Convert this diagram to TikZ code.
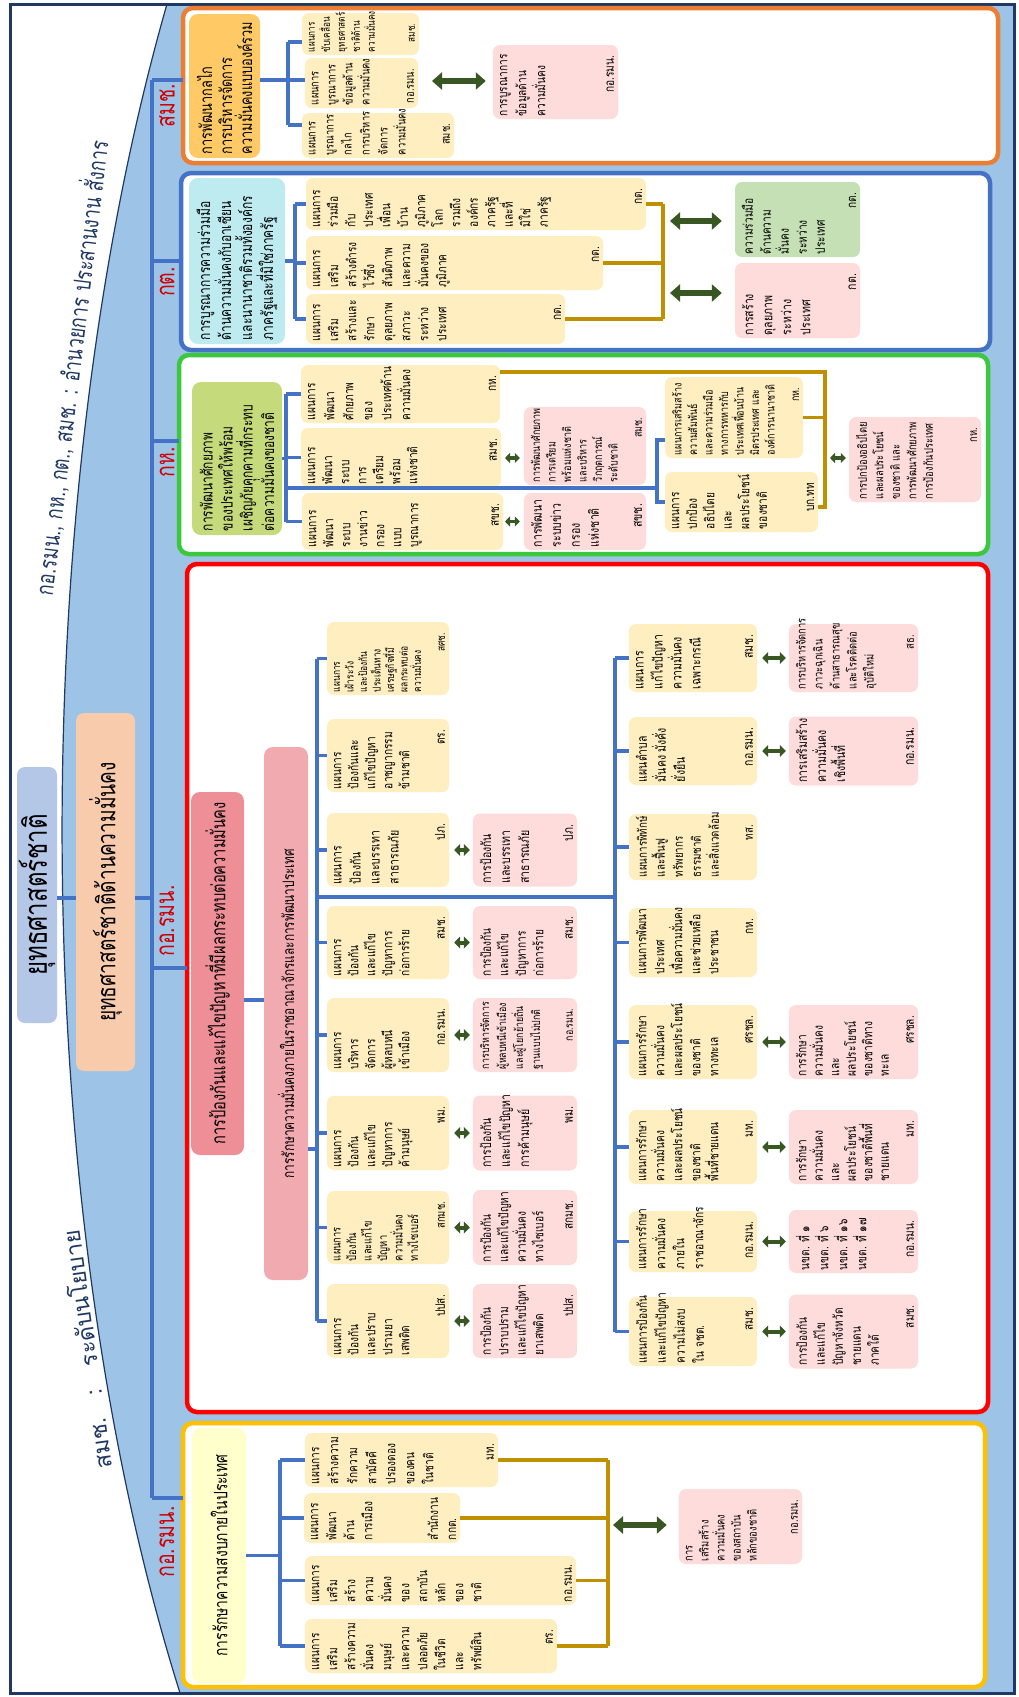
\documentclass[tikz,border=0pt]{standalone}
\usepackage{fontspec}
\setmainfont{Loma}[Script=Thai]
\newfontfamily\thn{Loma}[Script=Thai,FakeStretch=0.75]
\newfontfamily\thb{Loma}[Script=Thai,FakeStretch=0.78]
\usetikzlibrary{arrows.meta}

\definecolor{bgblue}{HTML}{9DC3E6}
\definecolor{navy}{HTML}{203864}
\definecolor{busblue}{HTML}{4472C4}
\definecolor{gold}{HTML}{BF9000}
\definecolor{arrowgreen}{HTML}{385723}
\definecolor{planyellow}{HTML}{FFEEC0}
\definecolor{taskpink}{HTML}{FFDCDC}
\definecolor{coopgreen}{HTML}{C5E0B4}
\definecolor{frameorange}{HTML}{ED7D31}
\definecolor{framegreen}{HTML}{3CC83C}
\definecolor{frameyellow}{HTML}{FFC000}
\definecolor{labelred}{HTML}{D00000}
\definecolor{natblue}{HTML}{B4C7E7}
\definecolor{secpeach}{HTML}{F8CBAD}
\definecolor{sumorange}{HTML}{FFC966}
\definecolor{sumcyan}{HTML}{BDEBF0}
\definecolor{sumgreen}{HTML}{C4DA7B}
\definecolor{sumred}{HTML}{EE8E96}
\definecolor{sumpink}{HTML}{F2AAB1}
\definecolor{sumyellow}{HTML}{FFFFCC}

\newcommand\fsz[2]{\fontsize{#1}{#2}\selectfont}
\newcommand\plantext[4]{\parbox[c][\dimexpr#2pt-8pt\relax][s]{\dimexpr#1pt-6pt\relax}{\raggedright\vspace*{3pt}#3\par\vfill{\raggedleft#4\kern8pt\par}}}

\tikzset{
  secframe/.style={draw=#1, line width=4.5pt, rounded corners=10pt, fill=white, inner sep=0pt, outer sep=0pt},
  natbox/.style={rotate=90, rounded corners=8pt, inner sep=0pt, align=center},
  sumbox/.style={rotate=90, fill=#1, rounded corners=9pt, inner sep=4pt, align=left, font=\thn\fsz{17}{20}},
  planbox/.style={rotate=90, fill=planyellow, rounded corners=7pt, inner xsep=3pt, inner ysep=4pt, font=\thb\fsz{13}{18}},
  taskbox/.style={planbox, fill=taskpink},
  coopbox/.style={planbox, fill=coopgreen},
  agency/.style={rotate=90, text=labelred, font=\thn\fsz{26}{26}, inner sep=0pt},
  remark/.style={text=navy, font=\thn\fsz{24}{24}, inner sep=0pt},
  bus/.style={draw=busblue, line width=3.5pt},
  goldbus/.style={draw=gold, line width=3.5pt},
  dblarrow/.style={draw=arrowgreen, line width=5.5pt, {Triangle[length=10pt,width=17pt]}-{Triangle[length=10pt,width=17pt]}},
  shortarrow/.style={draw=arrowgreen, line width=4pt, {Triangle[length=6pt,width=12pt]}-{Triangle[length=6pt,width=12pt]}},
  minarrow/.style={draw=arrowgreen, line width=3.5pt, {Triangle[length=5pt,width=10pt]}-{Triangle[length=5pt,width=10pt]}}
}

\begin{document}
\begin{tikzpicture}[x=1pt,y=-1pt]
\useasboundingbox (0,0) rectangle (1018,1697);
\fill[white] (0,0) rectangle (1018,1697);
\fill[bgblue] (167,4) .. controls (25,500) and (25,1200) .. (180,1693) -- (1014,1693) -- (1014,4) -- cycle;
\draw[navy, line width=1.2pt] (167,4) .. controls (25,500) and (25,1200) .. (180,1693);
\draw[navy, line width=3pt] (10,4) rectangle (1014,1693);

\node[remark, rotate=83] (rk1) at (70,368) {กอ.รมน., กห., กต., สมช. : อำนวยการ ประสานงาน สั่งการ};
\node[remark, rotate=98, font=\fsz{23}{23}] (rk2) at (86,1350) {สมช.\quad:\quad ระดับนโยบาย};

\node[natbox, fill=natblue, minimum width=256pt, minimum height=40pt, font=\thn\fsz{32}{32}] (mtitle) at (37,895) {ยุทธศาสตร์ชาติ};
\node[natbox, fill=secpeach, minimum width=358pt, minimum height=59pt, font=\thn\fsz{25.5}{26}] (stitle) at (105.5,892) {ยุทธศาสตร์ชาติด้านความมั่นคง};

\node[secframe=frameorange, minimum width=815pt, minimum height=155pt] (oframe) at (590.5,85.5) {};
\node[secframe=busblue, minimum width=809pt, minimum height=177pt] (bframe) at (585.5,261.5) {};
\node[secframe=framegreen, minimum width=809pt, minimum height=199pt] (gframe) at (583.5,454.5) {};
\node[secframe=red, minimum width=801pt, minimum height=848pt] (rframe) at (587.5,988) {};
\node[secframe=frameyellow, minimum width=802pt, minimum height=264pt] (yframe) at (584,1555) {};

\coordinate (t1) at (152,80);
\coordinate (t2) at (152,261);
\coordinate (t3) at (152,441);
\coordinate (t4) at (152,968);
\coordinate (t5) at (152,1498);
\coordinate (tm) at (152,898);
\coordinate (mj) at (66,898);
\draw[bus] (t1) -- (t5);
\foreach \t/\f in {t1/oframe,t2/bframe,t3/gframe,t4/rframe,t5/yframe}
  \draw[bus] (\t) -- (\t -| \f.west);
\draw[bus] (mj -| mtitle.south) -- (mj -| stitle.north);
\draw[bus] (stitle.south |- tm) -- (tm);

\node[agency] (lsmc) at (167,106) {สมช.};
\node[agency] (lkt) at (167,282) {กต.};
\node[agency] (lkh) at (167,462) {กห.};
\node[agency] (lisoca) at (167,921) {กอ.รมน.};
\node[agency] (lisocb) at (167,1542) {กอ.รมน.};

% สมช.
\node[sumbox=sumorange, text width=136pt, minimum height=71pt] (otitle) at (224.5,86) {การพัฒนากลไก\\การบริหารจัดการ\\ความมั่นคงแบบองค์รวม};
\node[planbox, font=\thb\fsz{10.5}{15}] (oA) at (360.5,34) {\plantext{42}{117}{แผนการ\\ขับเคลื่อน\\ยุทธศาสตร์\\ชาติด้าน\\ความมั่นคง}{สมช.}};
\node[planbox, font=\thb\fsz{12}{17}] (oB) at (361.5,83) {\plantext{50}{113}{แผนการ\\บูรณาการ\\ข้อมูลด้าน\\ความมั่นคง}{กอ.รมน.}};
\node[planbox, font=\thb\fsz{12}{18}] (oC) at (378,135.5) {\plantext{45}{152}{แผนการ\\บูรณาการ\\กลไก\\การบริหาร\\จัดการ\\ความมั่นคง}{สมช.}};
\node[taskbox, font=\thb\fsz{13}{19}] (oP) at (555.5,82) {\plantext{74}{125}{การบูรณาการ\\ข้อมูลด้าน\\ความมั่นคง}{กอ.รมน.}};
\coordinate (ob) at (288,80);
\coordinate (oba) at (288,42);
\coordinate (obc) at (288,125);
\coordinate (oa) at (432,81);
\draw[bus] (oba) -- (obc);
\draw[bus] (otitle.south |- ob) -- (ob) -- (ob -| oB.north);
\draw[bus] (oba) -- (oba -| oA.north);
\draw[bus] (obc) -- (obc -| oC.north);
\draw[dblarrow, shorten >=7pt] (oa) -- (oa -| oP.north);

% กต.
\node[sumbox=sumcyan, text width=158pt, minimum height=96pt, font=\thn\fsz{16}{21}] (btitle) at (237,261) {การบูรณาการความร่วมมือ\\ด้านความมั่นคงกับอาเซียน\\และนานาชาติรวมทั้งองค์กร\\ภาครัฐและที่มิใช่ภาครัฐ};
\node[planbox, font=\thb\fsz{13}{17.5}] (bB1) at (476,204) {\plantext{52}{340}{แผนการ\\ร่วมมือ\\กับ\\ประเทศ\\เพื่อน\\บ้าน\\ภูมิภาค\\โลก\\รวมถึง\\องค์กร\\ภาครัฐ\\และที่\\มิใช่\\ภาครัฐ}{กต.}};
\node[planbox] (bB2) at (454.5,263) {\plantext{54}{297}{แผนการ\\เสริม\\สร้างดำรง\\ไว้ซึ่ง\\สันติภาพ\\และความ\\มั่นคงของ\\ภูมิภาค}{กต.}};
\node[planbox] (bB3) at (435.5,319) {\plantext{50}{259}{แผนการ\\เสริม\\สร้างและ\\รักษา\\ดุลยภาพ\\สภาวะ\\ระหว่าง\\ประเทศ}{กต.}};
\node[coopbox] (bC) at (797.5,219.5) {\plantext{75}{125}{ความร่วมมือ\\ด้านความ\\มั่นคง\\ระหว่าง\\ประเทศ}{กต.}};
\node[taskbox, font=\thb\fsz{13.5}{19}] (bP) at (797.5,300.5) {\plantext{75}{125}{การสร้าง\\ดุลยภาพ\\ระหว่าง\\ประเทศ}{กต.}};
\coordinate (bb) at (295,261);
\coordinate (bg) at (663,261);
\coordinate (baa) at (670,221);
\coordinate (bab) at (670,293);
\draw[bus] (btitle.south) -- (bb |- btitle.south);
\draw[bus] (bb |- bB1.north) -- (bb |- bB3.north);
\foreach \b in {bB1,bB2,bB3} {
  \draw[bus] (bb |- \b.north) -- (\b.north);
  \draw[goldbus] (\b.south) -- (bg |- \b.south);
}
\draw[goldbus] (bg |- bB1.south) -- (bg |- bB3.south);
\draw[dblarrow, shorten >=13pt] (baa) -- (baa -| bC.north);
\draw[dblarrow, shorten >=13pt] (bab) -- (bab -| bP.north);

% กห.
\node[sumbox=sumgreen, text width=145pt, minimum height=90pt, font=\thn\fsz{16}{20}] (gtitle) at (237,458.5) {การพัฒนาศักยภาพ\\ของประเทศให้พร้อม\\เผชิญภัยคุกคามที่กระทบ\\ต่อความมั่นคงของชาติ};
\node[planbox, font=\thb\fsz{13}{19}] (G1) at (400.5,394) {\plantext{58}{199}{แผนการ\\พัฒนา\\ศักยภาพ\\ของ\\ประเทศด้าน\\ความมั่นคง}{กห.}};
\node[planbox, font=\thb\fsz{13}{17}] (G2) at (401,457.5) {\plantext{59}{200}{แผนการ\\พัฒนา\\ระบบ\\การ\\เตรียม\\พร้อม\\แห่งชาติ}{สมช.}};
\node[planbox, font=\thb\fsz{13}{17}] (G3) at (402.5,521.5) {\plantext{57}{201}{แผนการ\\พัฒนา\\ระบบ\\งานข่าว\\กรอง\\แบบ\\บูรณาการ}{สขช.}};
\node[taskbox, font=\thb\fsz{11.5}{15.5}] (P1) at (585,446) {\plantext{78}{122}{การพัฒนาศักยภาพ\\การเตรียม\\พร้อมแห่งชาติ\\และบริหาร\\วิกฤตการณ์\\ระดับชาติ}{สมช.}};
\node[taskbox, font=\thb\fsz{13.5}{19}] (P2) at (585,521.5) {\plantext{57}{122}{การพัฒนา\\ระบบข่าว\\กรอง\\แห่งชาติ}{สขช.}};
\node[planbox, font=\thb\fsz{11.5}{15.5}] (G4) at (734,417.5) {\plantext{81}{138}{แผนการเสริมสร้าง\\ความสัมพันธ์\\และความร่วมมือ\\ทางการทหารกับ\\ประเทศเพื่อนบ้าน\\มิตรประเทศ และ\\องค์การนานาชาติ}{กห.}};
\node[planbox, font=\thb\fsz{13}{17.5}] (G5) at (741.5,502) {\plantext{60}{153}{แผนการ\\ปกป้อง\\อธิปไตย\\และ\\ผลประโยชน์\\ของชาติ}{บก.ทท}};
\node[taskbox, font=\thb\fsz{12}{16.5}] (P3) at (915,459.5) {\plantext{85}{132}{การปกป้องอธิปไตย\\และผลประโยชน์\\ของชาติ และ\\การพัฒนาศักยภาพ\\การป้องกันประเทศ}{กห.}};
\coordinate (gb) at (286,458.5);
\coordinate (gl) at (657,488);
\coordinate (gla) at (657,440);
\coordinate (glb) at (657,502);
\coordinate (gga) at (825,372);
\coordinate (ggb) at (825,507);
\coordinate (gaa) at (505,458);
\coordinate (gab) at (505,521.5);
\coordinate (gac) at (830,458);
\draw[bus] (gtitle.south) -- (gb |- gtitle.south);
\draw[bus] (gb |- G1.north) -- (gb |- G3.north);
\foreach \b in {G1,G2,G3}
  \draw[bus] (gb |- \b.north) -- (\b.north);
\draw[bus] (gb |- gl) -- (gl);
\draw[bus] (gla -| G4.north) -- (gla) -- (glb) -- (glb -| G5.north);
\draw[goldbus] (gga -| G1.south) -- (gga) -- (ggb) -- (ggb -| G5.south);
\draw[goldbus] (G4.south) -- (gga |- G4.south);
\draw[minarrow, shorten >=4pt] (gaa) -- (gaa -| P1.north);
\draw[minarrow, shorten >=4pt] (gab) -- (gab -| P2.north);
\draw[minarrow, shorten >=3pt] (gac) -- (gac -| P3.north);

% กอ.รมน.
\node[sumbox=sumred, align=center, minimum width=363pt, minimum height=53pt, font=\thn\fsz{19.5}{22}] (rtitlea) at (217.5,973.5) {การป้องกันและแก้ไขปัญหาที่มีผลกระทบต่อความมั่นคง};
\node[sumbox=sumpink, align=center, minimum width=533pt, minimum height=44pt, font=\thn\fsz{15.8}{20}] (rtitleb) at (286,1013.5) {การรักษาความมั่นคงภายในราชอาณาจักรและการพัฒนาประเทศ};
%
\node[planbox, font=\thb\fsz{10.8}{13.5}] (R1) at (388,658.5) {\plantext{73}{122}{แผนการ\\เฝ้าระวัง\\และป้องกัน\\ประเด็นทาง\\เศรษฐกิจที่มี\\ผลกระทบต่อ\\ความมั่นคง}{สศช.}};
\node[planbox, font=\thb\fsz{13}{17}] (R2) at (388,755.5) {\plantext{73}{122}{แผนการ\\ป้องกันและ\\แก้ไขปัญหา\\อาชญากรรม\\ข้ามชาติ}{ตร.}};
\node[planbox, font=\thb\fsz{13.5}{19}] (R3) at (388,850) {\plantext{74}{122}{แผนการ\\ป้องกัน\\และบรรเทา\\สาธารณภัย}{ปภ.}};
\node[planbox, font=\thb\fsz{13}{17}] (R4) at (388,942.5) {\plantext{73}{122}{แผนการ\\ป้องกัน\\และแก้ไข\\ปัญหาการ\\ก่อการร้าย}{สมช.}};
\node[planbox, font=\thb\fsz{13}{17}] (R5) at (388,1035) {\plantext{74}{122}{แผนการ\\บริหาร\\จัดการ\\ผู้หลบหนี\\เข้าเมือง}{กอ.รมน.}};
\node[planbox, font=\thb\fsz{13}{17}] (R6) at (388,1133) {\plantext{74}{122}{แผนการ\\ป้องกัน\\และแก้ไข\\ปัญหาการ\\ค้ามนุษย์}{พม.}};
\node[planbox, font=\thb\fsz{12}{15.5}] (R7) at (388,1227.5) {\plantext{73}{122}{แผนการ\\ป้องกัน\\และแก้ไข\\ปัญหา\\ความมั่นคง\\ทางไซเบอร์}{สกมช.}};
\node[planbox, font=\thb\fsz{13}{17}] (R8) at (388,1321) {\plantext{74}{122}{แผนการ\\ป้องกัน\\และปราบ\\ปรามยา\\เสพติด}{ปปส.}};
%
\node[taskbox, font=\thb\fsz{13.5}{19}] (RP3) at (525,850) {\plantext{73}{104}{การป้องกัน\\และบรรเทา\\สาธารณภัย}{ปภ.}};
\node[taskbox, font=\thb\fsz{13}{17.5}] (RP4) at (525,942.5) {\plantext{73}{104}{การป้องกัน\\และแก้ไข\\ปัญหาการ\\ก่อการร้าย}{สมช.}};
\node[taskbox, font=\thb\fsz{11.3}{17}] (RP5) at (525,1035) {\plantext{74}{104}{การบริหารจัดการ\\ผู้หลบหนีเข้าเมือง\\และผู้โยกย้ายถิ่น\\ฐานแบบไม่ปกติ}{กอ.รมน.}};
\node[taskbox, font=\thb\fsz{13.5}{19}] (RP6) at (525,1133) {\plantext{75}{104}{การป้องกัน\\และแก้ไขปัญหา\\การค้ามนุษย์}{พม.}};
\node[taskbox, font=\thb\fsz{13}{17.5}] (RP7) at (525,1227.5) {\plantext{75}{104}{การป้องกัน\\และแก้ไขปัญหา\\ความมั่นคง\\ทางไซเบอร์}{สกมช.}};
\node[taskbox, font=\thb\fsz{13}{17.5}] (RP8) at (525,1321) {\plantext{74}{104}{การป้องกัน\\ปราบปราม\\และแก้ไขปัญหา\\ยาเสพติด}{ปปส.}};
%
\node[planbox, font=\thb\fsz{13.5}{19}] (R9) at (693,658) {\plantext{68}{128}{แผนการ\\แก้ไขปัญหา\\ความมั่นคง\\เฉพาะกรณี}{สมช.}};
\node[planbox, font=\thb\fsz{13.5}{19}] (R10) at (693,751) {\plantext{68}{128}{แผนตำบล\\มั่นคง มั่งคั่ง\\ยั่งยืน}{กอ.รมน.}};
\node[planbox, font=\thb\fsz{12.5}{18}] (R11) at (693,847) {\plantext{66}{128}{แผนการพิทักษ์\\และฟื้นฟู\\ทรัพยากร\\ธรรมชาติ\\และสิ่งแวดล้อม}{ทส.}};
\node[planbox] (R12) at (693,942.5) {\plantext{69}{128}{แผนการพัฒนา\\ประเทศ\\เพื่อความมั่นคง\\และช่วยเหลือ\\ประชาชน}{กห.}};
\node[planbox] (R13) at (693,1042) {\plantext{74}{128}{แผนการรักษา\\ความมั่นคง\\และผลประโยชน์\\ของชาติ\\ทางทะเล}{ศรชล.}};
\node[planbox] (R14) at (693,1147) {\plantext{74}{128}{แผนการรักษา\\ความมั่นคง\\และผลประโยชน์\\ของชาติ\\พื้นที่ชายแดน}{มท.}};
\node[planbox, font=\thb\fsz{13}{19}] (R15) at (693,1241.5) {\plantext{61}{128}{แผนการรักษา\\ความมั่นคง\\ภายใน\\ราชอาณาจักร}{กอ.รมน.}};
\node[planbox, font=\thb\fsz{13}{19}] (R16) at (693,1331.5) {\plantext{69}{128}{แผนการป้องกัน\\และแก้ไขปัญหา\\ความไม่สงบ\\ใน จชต.}{สมช.}};
%
\node[taskbox, font=\thb\fsz{12}{17}] (RP9) at (853.5,658) {\plantext{68}{129}{การบริหารจัดการ\\ภาวะฉุกเฉิน\\ด้านสาธารณสุข\\และโรคติดต่อ\\อุบัติใหม่}{สธ.}};
\node[taskbox, font=\thb\fsz{13.5}{19}] (RP10) at (853.5,751) {\plantext{69}{129}{การเสริมสร้าง\\ความมั่นคง\\เชิงพื้นที่}{กอ.รมน.}};
\node[taskbox, font=\thb\fsz{13}{16.5}] (RP13) at (853.5,1042) {\plantext{74}{129}{การรักษา\\ความมั่นคง\\และ\\ผลประโยชน์\\ของชาติทาง\\ทะเล}{ศรชล.}};
\node[taskbox, font=\thb\fsz{13}{16.5}] (RP14) at (853.5,1147) {\plantext{74}{129}{การรักษา\\ความมั่นคง\\และ\\ผลประโยชน์\\ของชาติพื้นที่\\ชายแดน}{มท.}};
\node[taskbox, font=\thb\fsz{13}{19}] (RP15) at (853.5,1241.5) {\plantext{63}{129}{นขต. ที่ ๑\\นขต. ที่ ๖\\นขต. ที่ ๑๖\\นขต. ที่ ๑๗}{กอ.รมน.}};
\node[taskbox] (RP16) at (853.5,1331.5) {\plantext{74}{129}{การป้องกัน\\และแก้ไข\\ปัญหาจังหวัด\\ชายแดน\\ภาคใต้}{สมช.}};
%
\coordinate (rj) at (254,1000);
\coordinate (rb) at (317,897);
\coordinate (rjb) at (317,1149);
\coordinate (cb) at (615,897);
\draw[bus] (rj -| rtitlea.south) -- (rj -| rtitleb.north);
\draw[bus] (rtitleb.south |- rjb) -- (rjb);
\draw[bus] (rb |- R1.north) -- (rb |- R8.north);
\draw[bus] (rb) -- (cb);
\draw[bus] (cb |- R9.north) -- (cb |- R16.north);
\foreach \b in {R1,R2,R3,R4,R5,R6,R7,R8}
  \draw[bus] (rb |- \b.north) -- (\b.north);
\foreach \b in {R9,R10,R11,R12,R13,R14,R15,R16}
  \draw[bus] (cb |- \b.north) -- (\b.north);
\foreach \a/\b in {R3/RP3,R4/RP4,R5/RP5,R6/RP6,R7/RP7,R8/RP8,R9/RP9,R10/RP10,R13/RP13,R14/RP14,R15/RP15,R16/RP16}
  \draw[shortarrow, shorten <=5pt, shorten >=3pt] (\a.south) -- (\b.north);

% กอ.รมน. (ล่าง)
\node[sumbox=sumyellow, align=center, minimum width=255pt, minimum height=54pt, font=\thn\fsz{18.5}{21}] (ytitle) at (219,1555.5) {การรักษาความสงบภายในประเทศ};
\node[planbox, font=\thb\fsz{13}{19}] (Y1) at (401.5,1460) {\plantext{54}{193}{แผนการ\\สร้างความ\\รักความ\\สามัคคี\\ปรองดอง\\ของคน\\ในชาติ}{มท.}};
\node[planbox] (Y2) at (382,1518) {\plantext{50}{156}{แผนการ\\พัฒนา\\ด้าน\\การเมือง}{\raggedright สำนักงาน\\กกต.}};
\node[planbox] (Y3) at (440.5,1580.5) {\plantext{49}{271}{แผนการ\\เสริม\\สร้าง\\ความ\\มั่นคง\\ของ\\สถาบัน\\หลัก\\ของ\\ชาติ}{กอ.รมน.}};
\node[planbox] (Y4) at (431,1646) {\plantext{54}{252}{แผนการ\\เสริม\\สร้างความ\\มั่นคง\\มนุษย์\\และความ\\ปลอดภัย\\ในชีวิต\\และ\\ทรัพย์สิน}{ตร.}};
\node[taskbox, font=\thb\fsz{12}{16}] (yP) at (740.5,1526.5) {\plantext{75}{123}{การ\\เสริมสร้าง\\ความมั่นคง\\ของสถาบัน\\หลักของชาติ}{กอ.รมน.}};
\coordinate (yb) at (280,1555.5);
\coordinate (yg) at (608,1555);
\coordinate (ya) at (613,1525);
\draw[bus] (ytitle.south) -- (yb);
\draw[bus] (yb |- Y1.north) -- (yb |- Y4.north);
\foreach \b in {Y1,Y2,Y3,Y4} {
  \draw[bus] (yb |- \b.north) -- (\b.north);
  \draw[goldbus] (\b.south) -- (yg |- \b.south);
}
\draw[goldbus] (yg |- Y1.south) -- (yg |- Y4.south);
\draw[dblarrow, shorten >=12pt] (ya) -- (ya -| yP.north);
\end{tikzpicture}
\end{document}
